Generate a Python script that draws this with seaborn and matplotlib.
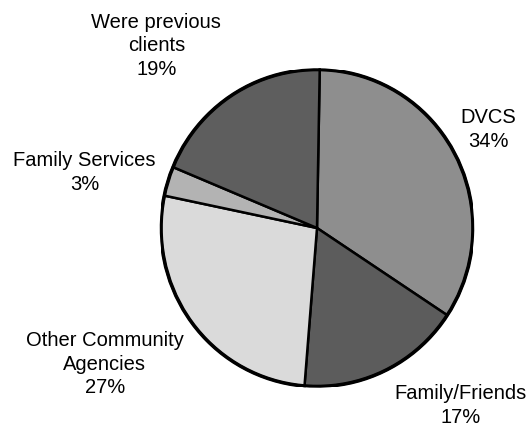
import matplotlib
matplotlib.use('Agg')
import matplotlib.pyplot as plt
import seaborn as sns

# referral sources, clockwise from 12 o'clock
sources = ["DVCS", "Family/Friends", "Other Community\nAgencies",
           "Family Services", "Were previous\nclients"]
shares = [34, 17, 27, 3, 19]

sns.set_theme(style="white")
plt.rcParams['font.family'] = ['Liberation Sans', 'DejaVu Sans']

# grey tones standing in for the dithered fills
greys = ["#8e8e8e", "#5c5c5c", "#dadada", "#b3b3b3", "#5e5e5e"]

# where each label sits, in pie units (radius = 1)
label_xy = [(1.10, 0.62), (0.92, -1.12), (-1.36, -0.86),
            (-1.49, 0.35), (-1.03, 1.15)]

W, H = 531, 434
fig = plt.figure(figsize=(W / 100, H / 100), dpi=100)
cx, cy, rx, ry = 317, 228, 156, 158.5
ax = fig.add_axes([(cx - rx) / W, (H - cy - ry) / H, 2 * rx / W, 2 * ry / H])

wedges, _ = ax.pie(shares, colors=greys, startangle=89, counterclock=False,
                   wedgeprops=dict(edgecolor='black', linewidth=1.8))
ax.set_aspect('auto')
ax.set_xlim(-1, 1)
ax.set_ylim(-1, 1)

# heavier outer rim
rim = plt.Circle((0, 0), 1, fill=False, edgecolor='black', linewidth=2.6)
ax.add_patch(rim)

for name, pct, (x, y) in zip(sources, shares, label_xy):
    ax.text(x, y, f"{name}\n{pct}%", ha='center', va='center',
            fontsize=14.5, linespacing=1.3, color='black')

ax.axis('off')
fig.savefig('out.png', dpi=100)
